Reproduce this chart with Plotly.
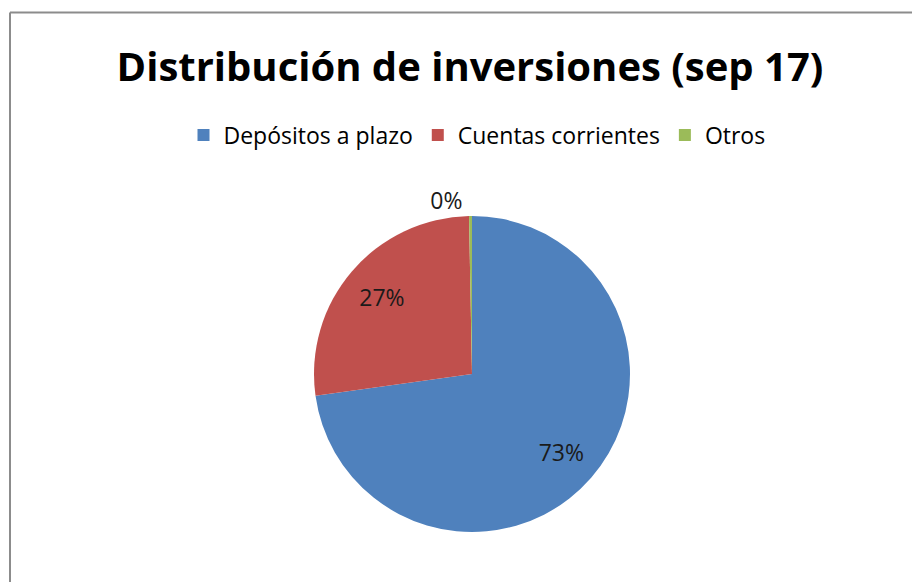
import plotly.graph_objects as go

categories = ["Depósitos a plazo", "Cuentas corrientes", "Otros"]
values = [72.8, 26.9, 0.3]
colors = ["#4F81BD", "#C0504D", "#9BBB59"]

W, H = 920, 582
OFF = 8  # default page body margin
cx, cy, r = 472 - OFF, 374 - OFF, 158
dom = dict(x=[(cx - r) / W, (cx + r) / W], y=[1 - (cy + r) / H, 1 - (cy - r) / H])
lab_font = dict(family="Open Sans", size=23, color="#1a1a1a")

# main pie (colors, legend, outside label for tiny slice)
fig = go.Figure(go.Pie(
    labels=categories,
    values=values,
    sort=False,
    direction="clockwise",
    rotation=0,
    marker=dict(colors=colors, line=dict(width=0)),
    texttemplate=["", "", "%{percent:.0%}"],
    textposition=["none", "none", "outside"],
    textfont=lab_font,
    hoverinfo="label+percent",
    domain=dom,
))
# transparent ring overlay to place the inside labels farther out
fig.add_trace(go.Pie(
    labels=categories,
    values=values,
    sort=False,
    direction="clockwise",
    rotation=0,
    hole=0.5,
    marker=dict(colors=["rgba(0,0,0,0)"] * 3, line=dict(width=0)),
    texttemplate="%{percent:.0%}",
    textposition=["inside", "inside", "none"],
    insidetextorientation="horizontal",
    textfont=lab_font,
    hoverinfo="skip",
    showlegend=False,
    domain=dom,
))

fig.update_layout(
    width=W, height=H,
    margin=dict(l=0, r=0, t=0, b=0),
    paper_bgcolor="white",
    plot_bgcolor="white",
    title=dict(text="<b>Distribución de inversiones (sep 17)</b>",
               x=(470 - OFF) / W, xanchor="center", y=1 - (67 - OFF) / H, yanchor="middle",
               yref="container",
               font=dict(family="Open Sans", size=40, color="#000000")),
    legend=dict(orientation="h", x=(477 - OFF) / W, xanchor="center", y=1 - (135 - OFF) / H, yanchor="middle",
                font=dict(family="Open Sans", size=23, color="#000000"),
                itemwidth=30, traceorder="normal"),
    shapes=[
        dict(type="line", xref="paper", yref="paper", x0=(10 - OFF) / W, x1=(10 - OFF) / W, y0=-0.05,
             y1=1 - (12.5 - OFF) / H, line=dict(color="#8c8c8c", width=2)),
        dict(type="line", xref="paper", yref="paper", x0=(10 - OFF) / W, x1=1.05, y0=1 - (12.5 - OFF) / H,
             y1=1 - (12.5 - OFF) / H, line=dict(color="#8c8c8c", width=2)),
    ],
)

fig.write_html("out.html")
